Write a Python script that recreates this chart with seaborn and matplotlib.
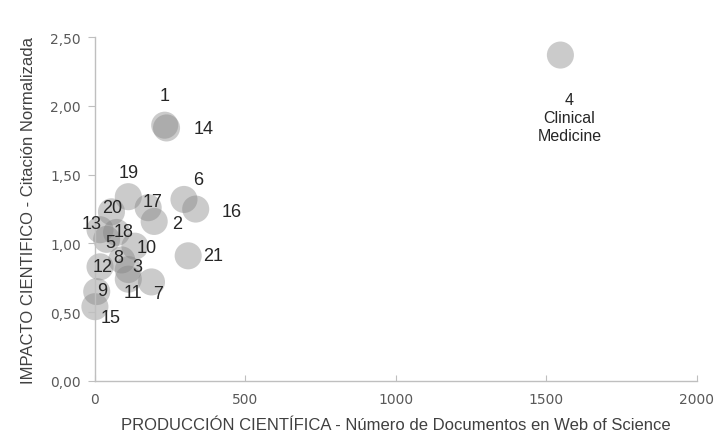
import matplotlib
matplotlib.use("Agg")
import matplotlib.pyplot as plt
import pandas as pd
import seaborn as sns
from matplotlib.ticker import FuncFormatter

# Data
areas = ["1", "2", "3", "4", "5", "6", "7", "8", "9", "10", "11",
         "12", "13", "14", "15", "16", "17", "18", "19", "20", "21"]
documentos = [232, 197, 111, 1547, 39, 296, 188, 89, 6, 133, 111,
              17, 17, 238, 0, 335, 177, 72, 111, 55, 310]
citacion = [1.86, 1.16, 0.81, 2.37, 1.03, 1.32, 0.72, 0.88, 0.65, 0.98, 0.74,
            0.83, 1.10, 1.84, 0.54, 1.25, 1.26, 1.08, 1.34, 1.23, 0.91]

df = pd.DataFrame({"area": areas, "docs": documentos, "cit": citacion})

# label offsets (pixels) relative to each bubble
label_offsets = {
    "1": (0, 30), "14": (37, -1), "19": (0, 24), "6": (14, 20), "16": (36, -2),
    "17": (4, 6), "2": (23, -2), "20": (1, 4), "13": (-8, 6), "18": (7, 1),
    "5": (4, -3), "10": (12, -1), "8": (-3, 2), "12": (3, 0), "3": (9, 3),
    "11": (5, -13), "7": (7, -12), "21": (25, 0), "9": (5, 1), "15": (16, -11),
}

plt.rcParams['font.family'] = ['DejaVu Sans']
fig = plt.figure(figsize=(7.19, 4.39), dpi=100)
ax = fig.add_axes([0.132, 0.130, 0.837, 0.783])

sns.scatterplot(data=df, x="docs", y="cit", s=380, color="#7f7f7f", alpha=0.4,
                edgecolor="none", linewidth=0, ax=ax, legend=False)
for coll in ax.collections:
    coll.set_clip_on(False)

for a, x, y in zip(areas, documentos, citacion):
    if a == "4":
        ax.annotate("4\nClinical\nMedicine", (x, y), xytext=(9, -37),
                    textcoords="offset pixels", ha="center", va="top",
                    fontsize=11.5, color="#262626", family="Liberation Sans",
                    linespacing=1.25)
        continue
    dx, dy = label_offsets[a]
    ax.annotate(a, (x, y), xytext=(dx, dy), textcoords="offset pixels",
                ha="center", va="center", fontsize=13, color="#262626",
                family="Liberation Sans")

ax.set_xlim(0, 2000)
ax.set_ylim(0, 2.5)
ax.set_xticks([0, 500, 1000, 1500, 2000])
ax.set_yticks([0, 0.5, 1.0, 1.5, 2.0, 2.5])
ax.yaxis.set_major_formatter(FuncFormatter(lambda v, p: f"{v:.2f}".replace(".", ",")))

for side in ["top", "right"]:
    ax.spines[side].set_visible(False)
for side in ["left", "bottom"]:
    ax.spines[side].set_color("#bfbfbf")
    ax.spines[side].set_linewidth(1.0)
ax.tick_params(axis="x", direction="in", length=4, color="#bfbfbf",
               labelsize=10, labelcolor="#595959", pad=8)
ax.tick_params(axis="y", direction="out", length=5, color="#bfbfbf",
               labelsize=10, labelcolor="#595959", pad=5)

ax.set_xlabel("PRODUCCIÓN CIENTÍFICA - Número de Documentos en Web of Science",
              fontsize=12, color="#404040", family="Liberation Sans", labelpad=8)
ax.set_ylabel("IMPACTO CIENTIFICO - Citación Normalizada",
              fontsize=12, color="#404040", family="Liberation Sans", labelpad=10)

fig.savefig("out.png", dpi=100)
